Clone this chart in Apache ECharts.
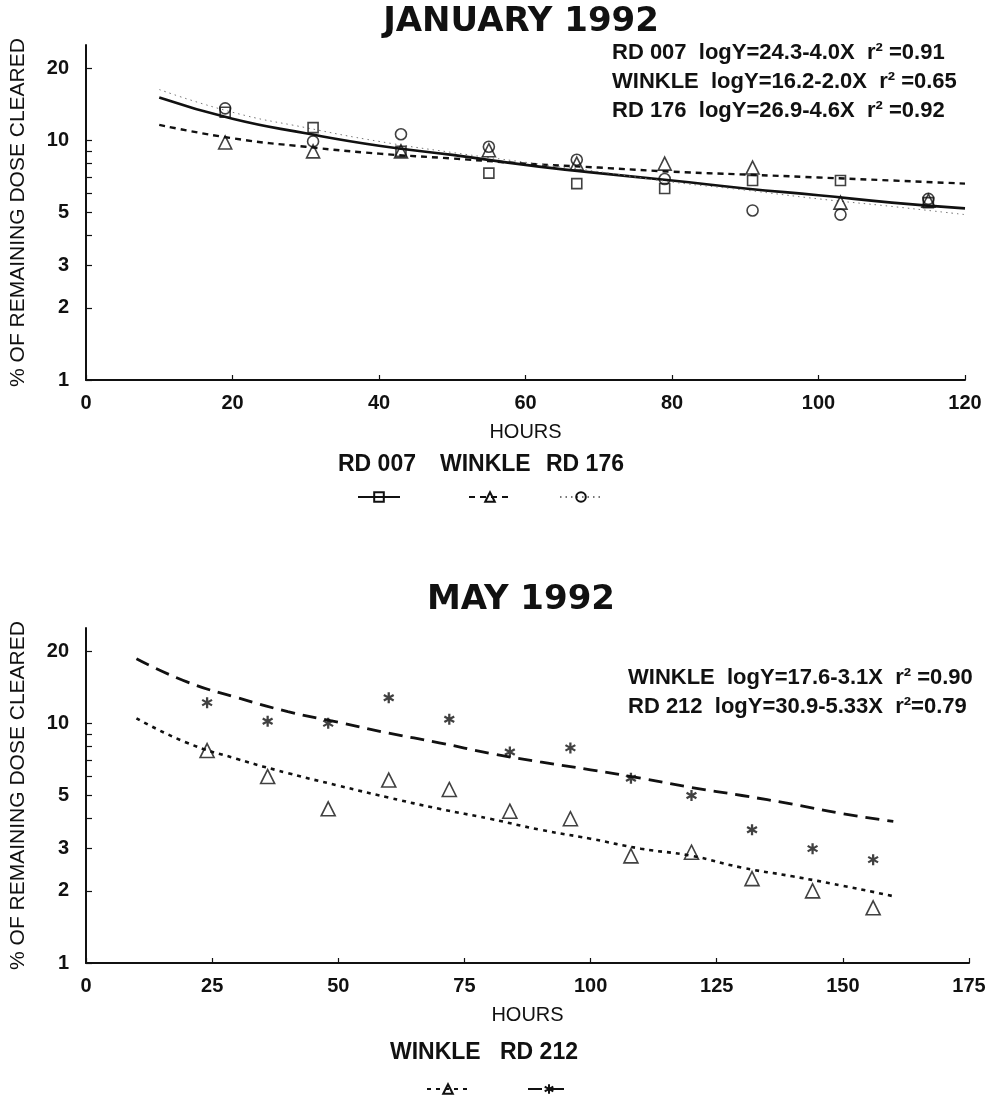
<!DOCTYPE html>
<html>
<head>
<meta charset="utf-8">
<title>Dose clearance, January and May 1992</title>
<script src="https://cdn.jsdelivr.net/npm/echarts@6/dist/echarts.min.js"></script>
<style>
  html, body { margin: 0; padding: 0; background: #fff; }
  #chart { width: 993px; height: 1105px; }
</style>
</head>
<body>
<div id="chart"></div>
<script>
// ---- January 1992: sampling hours and % of remaining dose cleared ----
const janHours   = [19, 31, 43, 55, 67, 79, 91, 103, 115];
const janRD007   = [13.1, 11.3, 9.0, 7.3, 6.6, 6.3, 6.8, 6.8, 5.5];
const janWinkle  = [9.8, 9.0, 9.0, 9.1, 8.0, 8.0, 7.7, 5.5, 5.6];
const janRD176   = [13.6, 9.9, 10.6, 9.4, 8.3, 6.9, 5.1, 4.9, 5.7];

// fitted curves, January
const janFitHours  = [10, 20, 30, 40, 50, 60, 70, 80, 90, 100, 110, 120];
const janFitRD007  = [15.1, 12.3, 10.7, 9.5, 8.7, 7.9, 7.3, 6.8, 6.3, 5.9, 5.5, 5.2];
const janFitWinkle = [11.6, 10.2, 9.4, 8.8, 8.4, 8.0, 7.7, 7.4, 7.2, 7.0, 6.8, 6.6];
const janFitRD176  = [16.3, 13.1, 11.3, 9.9, 8.9, 8.1, 7.4, 6.7, 6.2, 5.7, 5.3, 4.9];

// ---- May 1992 ----
const mayHours  = [24, 36, 48, 60, 72, 84, 96, 108, 120, 132, 144, 156];
const mayWinkle = [7.7, 6.0, 4.4, 5.8, 5.3, 4.3, 4.0, 2.8, 2.9, 2.25, 2.0, 1.7];
const mayRD212  = [12.2, 10.2, 10.0, 12.8, 10.4, 7.6, 7.9, 5.9, 5.0, 3.6, 3.0, 2.7];

// fitted curves, May
const mayFitHours  = [10, 20, 30, 40, 50, 60, 70, 80, 90, 100, 110, 120, 130, 140, 150, 160];
const mayFitWinkle = [10.5, 8.3, 7.1, 6.2, 5.5, 4.9, 4.4, 4.0, 3.6, 3.3, 3.0, 2.8, 2.5, 2.3, 2.1, 1.9];
const mayFitRD212  = [18.6, 14.9, 12.8, 11.2, 10.1, 9.1, 8.3, 7.5, 6.9, 6.4, 5.9, 5.4, 5.0, 4.6, 4.2, 3.9];

// axis ticks
const yLabelValues = [1, 2, 3, 5, 10, 20];
const yTickValues  = [1, 2, 3, 4, 5, 6, 7, 8, 9, 10, 20];
const yMin = 1, yMax = 25;
const janXMax = 120, janXStep = 20;
const mayXMax = 175, mayXStep = 25;

// text
const janTitle = 'JANUARY 1992';
const mayTitle = 'MAY 1992';
const yName = '% OF REMAINING DOSE CLEARED';
const xName = 'HOURS';
const janEquations = [
  'RD 007  logY=24.3-4.0X  r² =0.91',
  'WINKLE  logY=16.2-2.0X  r² =0.65',
  'RD 176  logY=26.9-4.6X  r² =0.92'
];
const mayEquations = [
  'WINKLE  logY=17.6-3.1X  r² =0.90',
  'RD 212  logY=30.9-5.33X  r²=0.79'
];

// series keys -> printed names
const displayName = {
  'RD 007': 'RD 007', 'WINKLE/JAN': 'WINKLE', 'RD 176': 'RD 176',
  'WINKLE/MAY': 'WINKLE', 'RD 212': 'RD 212'
};

const FONT = 'Liberation Sans, Arial, sans-serif';
const INK = '#111';
const ASTERISK = 'path://M-1,-5L1,-5L1,5L-1,5Z M3.83,3.37L-4.83,-1.63L-3.83,-3.37L4.83,1.63Z M4.83,-1.63L-3.83,3.37L-4.83,1.63L3.83,-3.37Z';

const zip = (xs, ys) => xs.map((x, i) => [x, ys[i]]);
const hollow = { color: 'transparent', borderColor: INK, borderWidth: 1.6 };

function fitLine(name, xs, ys, grid, lineStyle, symbol, itemStyle) {
  return {
    type: 'line', name, data: zip(xs, ys), xAxisIndex: grid, yAxisIndex: grid,
    smooth: true, showSymbol: false, symbol, symbolSize: 9,
    lineStyle: Object.assign({ color: INK }, lineStyle),
    itemStyle: itemStyle || hollow, silent: true, z: 2
  };
}
function points(name, xs, ys, grid, symbol, size, itemStyle) {
  return {
    type: 'scatter', name, data: zip(xs, ys), xAxisIndex: grid, yAxisIndex: grid,
    symbol, symbolSize: size, itemStyle: itemStyle || hollow, silent: true, z: 3
  };
}

function xAxis(grid, max, step) {
  return {
    type: 'value', gridIndex: grid, min: 0, max, interval: step,
    name: xName, nameLocation: 'middle', nameGap: 42,
    nameTextStyle: { fontFamily: FONT, fontSize: 20, color: INK },
    axisLine: { show: true, onZero: false, lineStyle: { color: INK, width: 2 } },
    axisTick: { show: true, inside: true, length: 5, lineStyle: { color: INK, width: 1.2 } },
    axisLabel: { fontFamily: FONT, fontSize: 20, fontWeight: 'bold', color: INK, margin: 13 },
    splitLine: { show: false }
  };
}
function yAxis(grid) {
  return {
    type: 'log', logBase: 10, gridIndex: grid, min: yMin, max: yMax,
    name: yName, nameLocation: 'middle', nameGap: 57, nameRotate: 90,
    nameTextStyle: { fontFamily: FONT, fontSize: 21, color: INK },
    axisLine: { show: true, lineStyle: { color: INK, width: 2 } },
    axisTick: { show: true, inside: true, length: 6, customValues: yTickValues, lineStyle: { color: INK, width: 1.2 } },
    axisLabel: { customValues: yLabelValues, fontFamily: FONT, fontSize: 20, fontWeight: 'bold', color: INK, margin: 17 },
    splitLine: { show: false },
    minorTick: { show: false }
  };
}

function textLegend(name, left, top) {
  return {
    data: [name], left: left - 5, top, padding: 0, icon: 'none', itemWidth: 0, itemHeight: 14,
    selectedMode: false, formatter: n => displayName[n],
    textStyle: { fontFamily: FONT, fontSize: 23, fontWeight: 'bold', color: INK }
  };
}
function iconLegend(name, center, top) {
  return {
    data: [name], left: center - 21, top, padding: 0, itemWidth: 42, itemHeight: 12,
    selectedMode: false, formatter: () => ''
  };
}
function eqTitle(lines, left, top) {
  return {
    text: lines.join('\n'), left, top, padding: 0,
    textStyle: { fontFamily: FONT, fontSize: 22, fontWeight: 'bold', color: INK, lineHeight: 29 }
  };
}
function headTitle(text, top) {
  return {
    text, left: 521, top, padding: 0, textAlign: 'center', textVerticalAlign: 'top',
    textStyle: { fontFamily: 'DejaVu Sans, sans-serif', fontSize: 34, fontWeight: 'bold', color: INK }
  };
}

const option = {
  backgroundColor: '#fff',
  animation: false,
  title: [
    headTitle(janTitle, 5),
    headTitle(mayTitle, 583),
    eqTitle(janEquations, 612, 38),
    eqTitle(mayEquations, 628, 663)
  ],
  grid: [
    { left: 86, right: 28, top: 45, height: 335 },
    { left: 86, right: 24, top: 628, height: 335 }
  ],
  xAxis: [xAxis(0, janXMax, janXStep), xAxis(1, mayXMax, mayXStep)],
  yAxis: [yAxis(0), yAxis(1)],
  legend: [
    textLegend('RD 007', 338, 453),
    textLegend('WINKLE/JAN', 440, 453),
    textLegend('RD 176', 546, 453),
    iconLegend('RD 007', 378, 491),
    iconLegend('WINKLE/JAN', 489, 491),
    iconLegend('RD 176', 580, 491),
    textLegend('WINKLE/MAY', 390, 1041),
    textLegend('RD 212', 500, 1041),
    iconLegend('WINKLE/MAY', 447, 1083),
    iconLegend('RD 212', 548, 1083)
  ],
  series: [
    fitLine('RD 007', janFitHours, janFitRD007, 0, { width: 2.6, type: 'solid' }, 'rect'),
    fitLine('WINKLE/JAN', janFitHours, janFitWinkle, 0, { width: 2.4, type: [6, 5] }, 'triangle'),
    fitLine('RD 176', janFitHours, janFitRD176, 0, { width: 1, type: [1.5, 4], color: '#777' }, 'circle'),
    points('RD 007', janHours, janRD007, 0, 'rect', 10),
    points('WINKLE/JAN', janHours, janWinkle, 0, 'triangle', 13),
    points('RD 176', janHours, janRD176, 0, 'circle', 11),

    fitLine('WINKLE/MAY', mayFitHours, mayFitWinkle, 1, { width: 2.6, type: [4, 5] }, 'triangle'),
    fitLine('RD 212', mayFitHours, mayFitRD212, 1, { width: 2.8, type: [14, 8] }, ASTERISK, { color: INK }),
    points('WINKLE/MAY', mayHours, mayWinkle, 1, 'triangle', 14),
    points('RD 212', mayHours, mayRD212, 1, ASTERISK, 11, { color: INK })
  ]
};

const chart = echarts.init(document.getElementById('chart'), null, { renderer: 'canvas' });
chart.setOption(option);
</script>
</body>
</html>
